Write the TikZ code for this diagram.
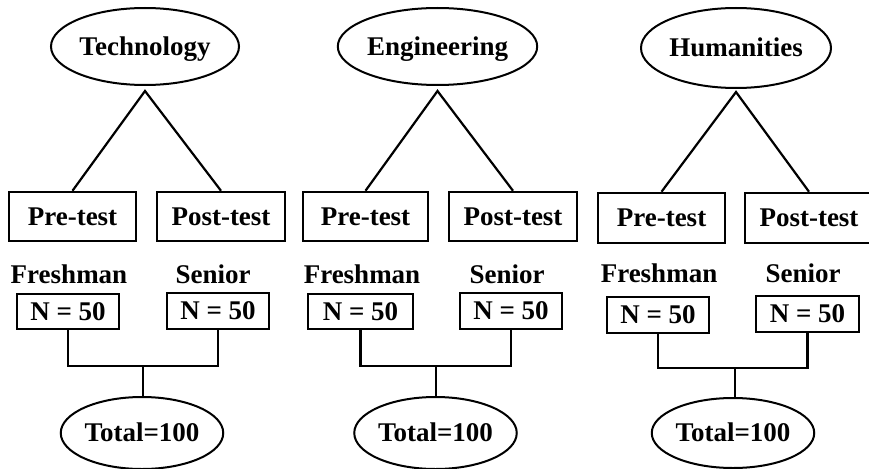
\documentclass[tikz,border=0pt]{standalone}
\usepackage{fontspec}
\setmainfont{Liberation Serif}
\usetikzlibrary{shapes.geometric,calc}
\tikzset{
  oval/.style={ellipse,draw,line width=2pt,inner sep=0pt,font=\bfseries\fontsize{27}{29}\selectfont,text height=17.5pt,text depth=0pt},
  boxnode/.style={rectangle,draw,line width=2.5pt,inner sep=0pt,font=\bfseries\fontsize{27}{29}\selectfont,text height=17.5pt,text depth=0pt},
  lab/.style={anchor=base,inner sep=0pt,font=\bfseries\fontsize{27}{29}\selectfont},
  link/.style={line width=2.2pt},
  bar/.style={line width=2.7pt}
}
\begin{document}
\begin{tikzpicture}[x=1pt,y=-1pt]
\useasboundingbox (0,0) rectangle (869,468);
% ---------- Group 1 ----------
\node[oval,minimum width=188pt,minimum height=77pt] (e1) at (145,46.5) {Technology};
\coordinate (a1) at ($(e1.south)+(0,-5pt)$);
\node[boxnode,minimum width=127pt,minimum height=49pt] (pre1) at (72.5,216.5) {Pre-test};
\node[boxnode,minimum width=128pt,minimum height=49pt] (post1) at (221,216.5) {Post-test};
\draw[link] (pre1.north) -- (a1) -- (post1.north);
\node[lab] (f1) at (69,283) {Freshman};
\node[lab] (s1) at (213,283) {Senior};
\node[boxnode,minimum width=102pt,minimum height=35pt] (n1a) at (68,311.5) {N = 50};
\node[boxnode,minimum width=102pt,minimum height=36pt] (n1b) at (218,311) {N = 50};
\node[oval,minimum width=155pt,minimum height=72pt] (t1) at (142,433) {Total=100};
\coordinate (j1) at (143,366);
\draw[bar] (n1a.south) |- (j1) -| (n1b.south);
\draw[bar] (j1) -- (j1 |- t1.north);
% ---------- Group 2 ----------
\node[oval,minimum width=191pt,minimum height=77pt] (e2) at (437.5,46.5) {Engineering};
\coordinate (a2) at ($(e2.south)+(0,-5pt)$);
\node[boxnode,minimum width=125pt,minimum height=49pt] (pre2) at (365.5,216.5) {Pre-test};
\node[boxnode,minimum width=128pt,minimum height=49pt] (post2) at (513,216.5) {Post-test};
\draw[link] (pre2.north) -- (a2) -- (post2.north);
\node[lab] (f2) at (362,283) {Freshman};
\node[lab] (s2) at (507,283) {Senior};
\node[boxnode,minimum width=105pt,minimum height=35pt] (n2a) at (360.5,311.5) {N = 50};
\node[boxnode,minimum width=102pt,minimum height=36pt] (n2b) at (511,311) {N = 50};
\node[oval,minimum width=153pt,minimum height=72pt] (t2) at (435.5,433) {Total=100};
\coordinate (j2) at (436,366);
\draw[bar] (n2a.south) |- (j2) -| (n2b.south);
\draw[bar] (j2) -- (j2 |- t2.north);
% ---------- Group 3 ----------
\node[oval,minimum width=190pt,minimum height=80pt] (e3) at (736,48) {Humanities};
\coordinate (a3) at ($(e3.south)+(0,-3pt)$);
\node[boxnode,minimum width=127pt,minimum height=50pt] (pre3) at (661.5,218) {Pre-test};
\node[boxnode,minimum width=128pt,minimum height=50pt] (post3) at (809,218) {Post-test};
\draw[link] (pre3.north) -- (a3) -- (post3.north);
\node[lab] (f3) at (659,282) {Freshman};
\node[lab] (s3) at (803,282) {Senior};
\node[boxnode,minimum width=102pt,minimum height=36pt] (n3a) at (658,315) {N = 50};
\node[boxnode,minimum width=103pt,minimum height=36pt] (n3b) at (807.5,314) {N = 50};
\node[oval,minimum width=150pt,minimum height=70pt] (t3) at (733,433) {Total=100};
\coordinate (j3) at (735,368);
\draw[bar] (n3a.south) |- (j3) -| (n3b.south);
\draw[bar] (j3) -- (j3 |- t3.north);
\end{tikzpicture}
\end{document}
